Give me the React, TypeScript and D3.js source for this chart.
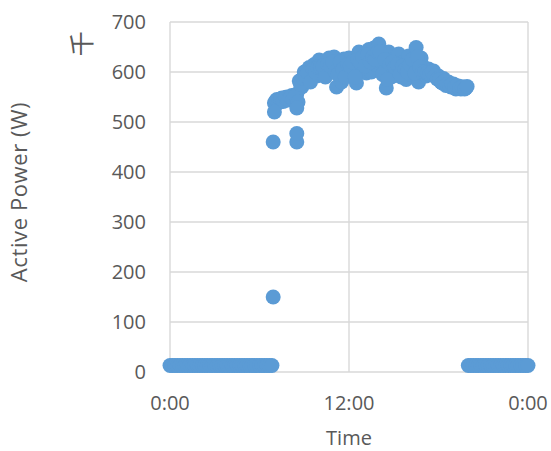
import React from "react";
import * as d3 from "d3";

// Sampling grid, minutes since midnight
const nightMorningTimes = d3.range(0, 420, 10); // 0:00 – 6:50
const nightEveningTimes = d3.range(1200, 1441, 10); // 20:00 – 24:00
const standbyPower = 13; // W drawn while the inverter is idle

// Daytime readings on the :00/:10/:20… grid
const dayTimes = d3.range(420, 1191, 10); // 7:00 – 19:50
const dayPower = [
  538, 545, 540, 548, 543, 550, // 7h
  546, 553, 549, 556, 582, 570, // 8h
  600, 585, 609, 590, 615, 592, // 9h
  624, 595, 622, 600, 628, 605, // 10h
  630, 570, 612, 580, 626, 600, // 11h
  628, 595, 610, 578, 640, 605, // 12h
  625, 598, 645, 600, 648, 615, // 13h
  656, 620, 600, 568, 640, 590, // 14h
  625, 600, 636, 590, 620, 585, // 15h
  632, 595, 610, 649, 580, 628, // 16h
  610, 592, 606, 595, 602, 590, // 17h
  592, 580, 587, 573, 580, 570, // 18h
  576, 566, 572, 566, 570, 568, // 19h
];

// Daytime readings on the :05/:15/:25… grid
const dayTimesOffset = d3.range(425, 1196, 10); // 7:05 – 19:55
const dayPowerOffset = [
  542, 538, 546, 541, 549, 544, // 7h
  550, 545, 552, 540, 575, 588, // 8h
  592, 598, 580, 605, 600, 610, // 9h
  610, 612, 590, 615, 612, 620, // 10h
  600, 595, 620, 605, 590, 615, // 11h
  612, 620, 590, 625, 620, 630, // 12h
  612, 635, 620, 630, 625, 640, // 13h
  640, 595, 625, 585, 615, 620, // 14h
  610, 615, 595, 612, 605, 600, // 15h
  615, 625, 598, 630, 610, 600, // 16h
  600, 598, 596, 600, 592, 586, // 17h
  585, 578, 582, 575, 572, 575, // 18h
  570, 572, 568, 570, 566, 571, // 19h
];

// Transient readings during start-up
const transientTimes = [415, 415, 420, 510, 510, 510];
const transientPower = [150, 460, 520, 460, 477, 528];

const yTicks = [0, 100, 200, 300, 400, 500, 600, 700];
const xTicks = [0, 720, 1440];
const xTickLabels = ["0:00", "12:00", "0:00"];

const W = 551;
const H = 451;
const FONT = "'Open Sans', 'Liberation Sans', sans-serif";
const TEXT = "#595959";
const GRID = "#d9d9d9";
const MARK = "#5b9bd5";

type Pt = [number, number];

export default function App() {
  const x = d3.scaleLinear().domain([0, 1440]).range([170, 528]);
  const y = d3.scaleLinear().domain([0, 700]).range([372, 22]);

  const points: Pt[] = [
    ...nightMorningTimes.map((t) => [t, standbyPower] as Pt),
    ...nightEveningTimes.map((t) => [t, standbyPower] as Pt),
    ...dayTimes.map((t, i) => [t, dayPower[i]] as Pt),
    ...dayTimesOffset.map((t, i) => [t, dayPowerOffset[i]] as Pt),
    ...transientTimes.map((t, i) => [t, transientPower[i]] as Pt),
  ];

  return (
    <svg
      width={W}
      height={H}
      style={{ position: "absolute", left: 0, top: 0, background: "#fff" }}
    >
      {/* horizontal gridlines */}
      {yTicks.map((v) => (
        <line
          key={"gy" + v}
          x1={x(0)}
          x2={x(1440)}
          y1={y(v)}
          y2={y(v)}
          stroke={GRID}
          strokeWidth={1.4}
        />
      ))}
      {/* vertical gridlines */}
      {xTicks.map((t) => (
        <line
          key={"gx" + t}
          x1={x(t)}
          x2={x(t)}
          y1={y(0)}
          y2={y(700)}
          stroke={GRID}
          strokeWidth={1.4}
        />
      ))}

      {/* markers */}
      {points.map(([t, v], i) => (
        <circle key={i} cx={x(t)} cy={y(v)} r={7.5} fill={MARK} />
      ))}

      {/* y tick labels */}
      {yTicks.map((v) => (
        <text
          key={"ty" + v}
          x={146}
          y={y(v)}
          dy="0.35em"
          textAnchor="end"
          fontFamily={FONT}
          fontSize={20}
          fill={TEXT}
        >
          {v}
        </text>
      ))}
      {/* x tick labels */}
      {xTicks.map((t, i) => (
        <text
          key={"tx" + i}
          x={x(t)}
          y={410}
          textAnchor="middle"
          fontFamily={FONT}
          fontSize={20}
          fill={TEXT}
        >
          {xTickLabels[i]}
        </text>
      ))}

      {/* axis titles */}
      <text
        x={349}
        y={445}
        textAnchor="middle"
        fontFamily={FONT}
        fontSize={20}
        fill={TEXT}
      >
        Time
      </text>
      <text
        transform="translate(27,192) rotate(-90)"
        textAnchor="middle"
        fontFamily={FONT}
        fontSize={22}
        letterSpacing={0.6}
        fill={TEXT}
      >
        Active Power (W)
      </text>

      {/* display-unit label */}
      <text
        transform="translate(79.5,43.7) rotate(-90)"
        textAnchor="middle"
        dominantBaseline="central"
        fontFamily="'Noto Sans CJK JP', sans-serif"
        fontSize={25}
        fill={TEXT}
      >
        千
      </text>
    </svg>
  );
}
